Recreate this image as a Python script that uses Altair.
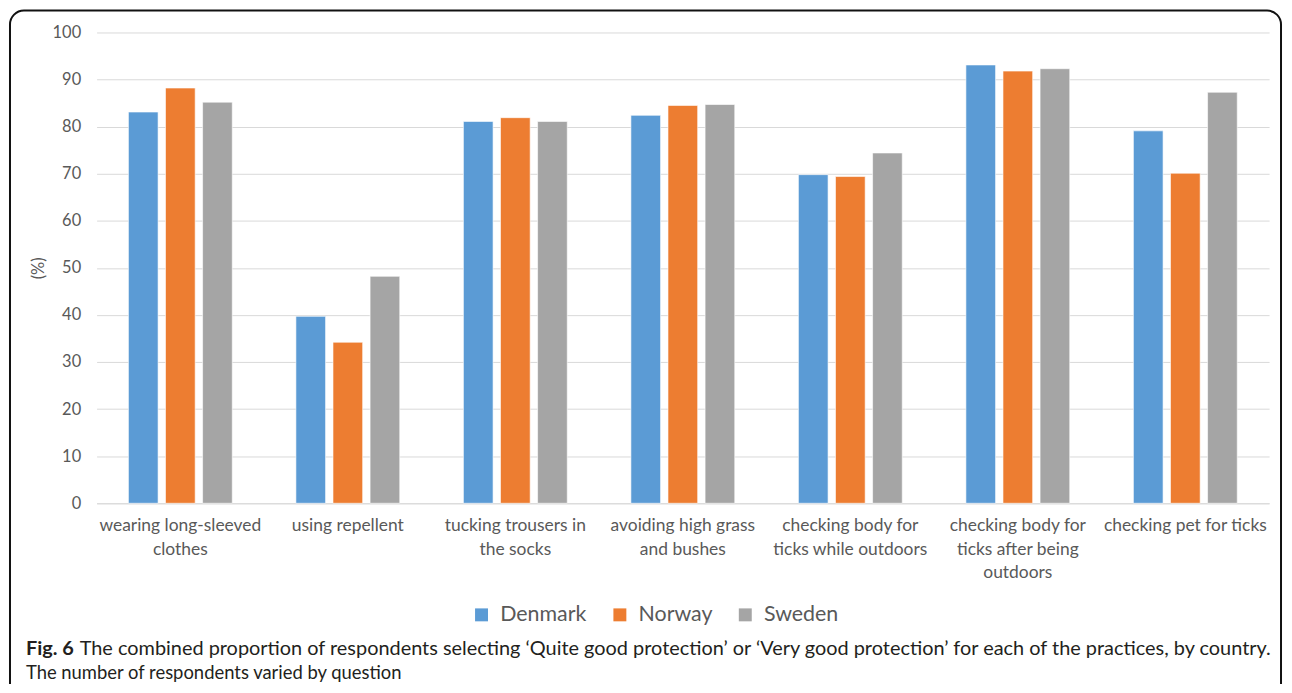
import altair as alt
import pandas as pd

practices = [
    "wearing long-sleeved|clothes",
    "using repellent",
    "tucking trousers in|the socks",
    "avoiding high grass|and bushes",
    "checking body for|ticks while outdoors",
    "checking body for|ticks after being|outdoors",
    "checking pet for ticks",
]
countries = ["Denmark", "Norway", "Sweden"]
denmark = [83.1, 39.7, 81.1, 82.4, 69.8, 93.1, 79.1]
norway = [88.2, 34.2, 81.9, 84.5, 69.4, 91.8, 70.1]
sweden = [85.2, 48.2, 81.1, 84.7, 74.4, 92.3, 87.3]
colors = ["#5B9BD5", "#ED7D31", "#A5A5A5"]

caption_bold = "Fig. 6"
caption_line1 = ("The combined proportion of respondents selecting \u2018Quite good protection\u2019 "
                 "or \u2018Very good protection\u2019 for each of the practices, by country.")
caption_line2 = "The number of respondents varied by question"

rows = []
for i, p in enumerate(practices):
    for c, vals in zip(countries, [denmark, norway, sweden]):
        rows.append({"practice": p, "country": c, "value": vals[i]})
df = pd.DataFrame(rows)

FONT = "Lato"
GREY = "#595959"

bars = alt.Chart(df).mark_bar(stroke="white", strokeWidth=0.6).encode(
    x=alt.X("practice:N", sort=practices,
            scale=alt.Scale(paddingInner=0.38, paddingOuter=0.19),
            axis=alt.Axis(title=None, labelAngle=0, ticks=False, domain=True,
                          domainColor="#d9d9d9", domainWidth=1, grid=False,
                          labelExpr="split(datum.label, '|')",
                          labelFont=FONT, labelFontSize=17.5, labelColor=GREY,
                          labelPadding=13, labelLineHeight=24, labelBaseline="top")),
    xOffset=alt.XOffset("country:N", sort=countries,
                        scale=alt.Scale(paddingInner=0.2, paddingOuter=0)),
    y=alt.Y("value:Q", scale=alt.Scale(domain=[0, 100], nice=False),
            axis=alt.Axis(values=list(range(0, 101, 10)), title="(%)",
                          titleFont=FONT, titleFontSize=16.5, titleColor=GREY,
                          titleFontWeight="normal", titlePadding=6,
                          labelFont=FONT, labelFontSize=16.5, labelColor=GREY,
                          labelPadding=16, ticks=False, domain=False,
                          gridColor="#d9d9d9", gridWidth=1)),
    color=alt.Color("country:N", sort=countries,
                    scale=alt.Scale(domain=countries, range=colors),
                    legend=alt.Legend(title=None, orient="none", direction="horizontal",
                                      legendX=376, legendY=574, symbolType="square",
                                      symbolSize=169, symbolStrokeWidth=0,
                                      labelFont=FONT, labelFontSize=21.5, labelColor=GREY,
                                      columnPadding=22, symbolOffset=0, labelOffset=8)),
)

border = alt.Chart(alt.Data(values=[{}])).mark_rect(
    fill=None, stroke="#111111", strokeWidth=2, cornerRadius=14, clip=False
).encode(x=alt.value(-87), x2=alt.value(1190), y=alt.value(-22), y2=alt.value(690))

cap_bold = alt.Chart(alt.Data(values=[{"t": caption_bold}])).mark_text(
    align="left", baseline="middle", font=FONT, fontSize=20, fontWeight="bold",
    color="#231f20").encode(text="t:N", x=alt.value(-71), y=alt.value(619))
cap1 = alt.Chart(alt.Data(values=[{"t": caption_line1}])).mark_text(
    align="left", baseline="middle", font=FONT, fontSize=20,
    color="#231f20").encode(text="t:N", x=alt.value(-17), y=alt.value(619))
cap2 = alt.Chart(alt.Data(values=[{"t": caption_line2}])).mark_text(
    align="left", baseline="middle", font=FONT, fontSize=18.5,
    color="#231f20").encode(text="t:N", x=alt.value(-71), y=alt.value(644))

chart = alt.layer(border, bars, cap_bold, cap1, cap2).properties(
    width=1178, height=473,
    padding={"left": 89, "top": 23, "right": 15, "bottom": 180},
    autosize=alt.AutoSizeParams(type="none"),
    background="white",
    view=alt.ViewBackground(stroke="white", strokeWidth=0, strokeOpacity=0),
).configure_view(stroke="white", strokeWidth=0, strokeOpacity=0)

chart.save("out.html", embed_options={"renderer": "svg", "actions": False})
